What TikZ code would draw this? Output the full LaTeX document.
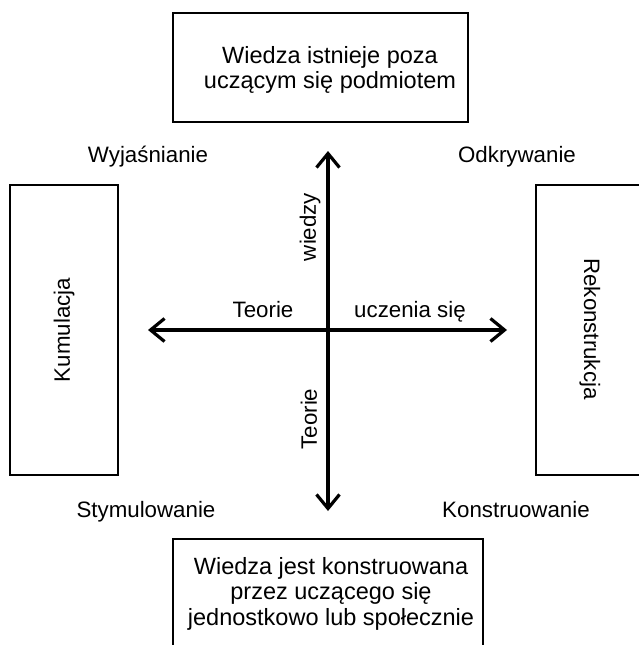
\documentclass[tikz,border=0pt]{standalone}
\usepackage{fontspec}
\setmainfont{Liberation Sans}
\usetikzlibrary{arrows.meta}
\begin{document}
\begin{tikzpicture}[x=1pt,y=-1pt,
  box/.style={draw,line width=1.3pt},
  lbl/.style={font=\fontsize{22.3}{25.3}\selectfont,inner sep=0pt,align=center},
  boxtext/.style={font=\fontsize{23.5}{25.5}\selectfont,inner sep=0pt,align=center},
  axis/.style={line width=3.2pt,{Straight Barb[length=14pt,width=23pt]}-{Straight Barb[length=14pt,width=23pt]}}]
\useasboundingbox (0,0) rectangle (639,645);
\clip (0,0) rectangle (639,645);
% boxes
\draw[box] (173,13) rectangle (468,122);
\node[boxtext,anchor=base] (top) at (330,88.5) {Wiedza istnieje poza\\uczącym się podmiotem};
\draw[box] (10,185) rectangle (118,475);
\node[lbl,rotate=90] (kum) at (64,330) {Kumulacja};
\draw[box] (536,185) rectangle (650,475);
\node[lbl,rotate=-90] (rek) at (590,329) {Rekonstrukcja};
\draw[box] (173,539) rectangle (483,660);
\node[boxtext,anchor=base] (bot) at (331,625) {Wiedza jest konstruowana\\przez uczącego się\\jednostkowo lub społecznie};
% corner labels
\node[lbl,anchor=base] (wyj) at (148,162) {Wyjaśnianie};
\node[lbl,anchor=base] (odk) at (517,162) {Odkrywanie};
\node[lbl,anchor=base] (sty) at (146,517) {Stymulowanie};
\node[lbl,anchor=base] (kon) at (516,517) {Konstruowanie};
% axes
\coordinate (N) at (328,151);
\coordinate (S) at (328,511);
\coordinate (W) at (148,330);
\coordinate (E) at (507,330);
\draw[axis] (W) -- (E);
\draw[axis] (N) -- (S);
% axis labels
\node[lbl,anchor=base] (t1) at (263,317) {Teorie};
\node[lbl,anchor=base] (ucz) at (410,317) {uczenia się};
\node[lbl,rotate=90] (wie) at (310,227) {wiedzy};
\node[lbl,rotate=90] (t2) at (309,419) {Teorie};
\end{tikzpicture}
\end{document}
